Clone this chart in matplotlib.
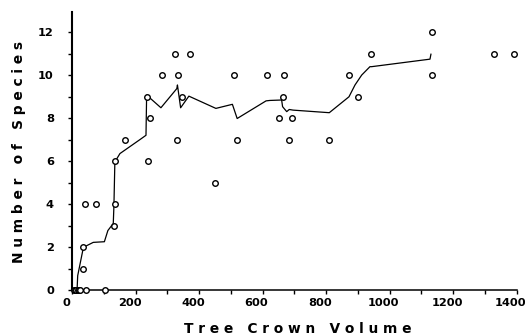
import numpy as np
import matplotlib
matplotlib.use("Agg")
import matplotlib.pyplot as plt
import matplotlib.transforms as mtransforms
from matplotlib.ticker import MultipleLocator, FixedLocator

plt.rcParams['font.family'] = ['DejaVu Sans']

# observed trees: crown volume vs number of species
volume = [5, 10, 14, 18, 22, 25, 44, 105, 35, 35, 42, 75, 133, 135, 136,
          166, 238, 235, 246, 284, 323, 334, 332, 345, 372, 450, 510, 521,
          613, 668, 665, 652, 693, 682, 809, 871, 901, 940, 1134, 1132,
          1329, 1393]
species = [0, 0, 0, 0, 0, 0, 0, 0, 1, 2, 4, 4, 3, 4, 6,
           7, 6, 9, 8, 10, 11, 10, 7, 9, 11, 5, 10, 7,
           10, 10, 9, 8, 8, 7, 7, 10, 9, 11, 12, 10,
           11, 11]

# smoothed trend line
smooth_x = [16, 18, 36, 67, 102, 113, 130, 132, 135, 151, 214, 233, 235,
            280, 330, 332, 342, 368, 453, 505, 520, 611, 623, 660, 663,
            676, 684, 696, 810, 872, 891, 912, 938, 943, 1127, 1130]
smooth_y = [0, 0.67, 1.99, 2.22, 2.25, 2.77, 3.1, 3.9, 5.96, 6.35, 7.0,
            7.2, 9.07, 8.48, 9.37, 9.54, 8.48, 9.02, 8.45, 8.64, 7.98,
            8.8, 8.82, 8.84, 8.53, 8.3, 8.4, 8.37, 8.25, 8.99, 9.54, 10.0,
            10.39, 10.39, 10.74, 10.97]

xticks = [0, 200, 400, 600, 800, 1000, 1200, 1400]
yticks = [0, 2, 4, 6, 8, 10, 12]

fig = plt.figure(figsize=(5.25, 3.35), dpi=100)
ax = fig.add_axes([0.1371, 0.134, 0.8471, 0.830])

ax.plot(smooth_x, smooth_y, color='black', lw=0.9, clip_on=False)
ax.plot(volume, species, 'o', mfc='white', mec='black', ms=4.0, mew=1.0,
        clip_on=False, zorder=3)

ax.set_xlim(0, 1400)
ax.set_ylim(0, 12.93)
ax.xaxis.set_major_locator(FixedLocator(xticks))
ax.xaxis.set_minor_locator(MultipleLocator(100))
ax.yaxis.set_major_locator(FixedLocator(yticks))
ax.yaxis.set_minor_locator(MultipleLocator(1))

for side in ['top', 'right']:
    ax.spines[side].set_visible(False)
ax.spines['left'].set_linewidth(1.5)
ax.spines['bottom'].set_linewidth(1.1)

ax.tick_params(which='both', direction='out', length=3, width=1.0)
ax.tick_params(axis='x', labelsize=8.2, pad=3)
ax.tick_params(axis='y', labelsize=8.2, pad=10)
shift = mtransforms.ScaledTranslation(-6 / 100, 0, fig.dpi_scale_trans)
for lab in ax.get_xticklabels():
    lab.set_fontweight('bold')
    lab.set_transform(lab.get_transform() + shift)
for lab in ax.get_yticklabels():
    lab.set_fontweight('bold')

fig.text(298 / 525, 2.3 / 335, 'T r e e   C r o w n   V o l u m e',
         fontsize=9.9, fontweight='bold', ha='center', va='baseline')
fig.text(19 / 525, 1 - 152 / 335, 'N u m b e r   o f   S p e c i e s',
         fontsize=9.9, fontweight='bold', ha='center', va='center',
         rotation=90)

fig.savefig('out.png', dpi=100)
